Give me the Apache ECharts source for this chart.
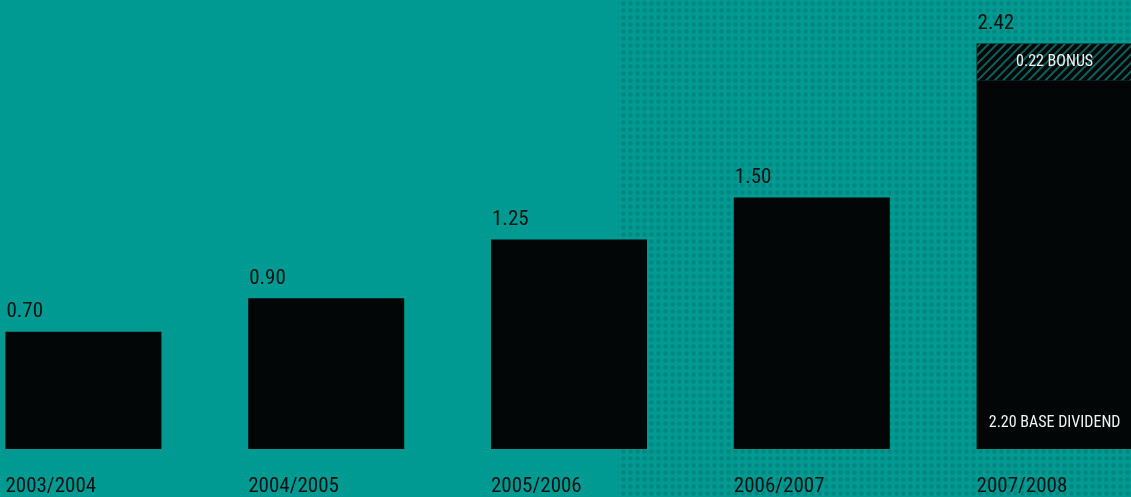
<!DOCTYPE html>
<html>
<head>
<meta charset="utf-8">
<script src="https://cdn.jsdelivr.net/npm/echarts@6/dist/echarts.min.js"></script>
<style>
html,body{margin:0;padding:0;background:#009a92;overflow:hidden;width:1131px;height:497px;}
#c{position:absolute;left:-38px;top:0;width:1214px;height:497px;}
</style>
</head>
<body>
<div id="c"></div>
<script>
const categories = ['2003/2004', '2004/2005', '2005/2006', '2006/2007', '2007/2008'];
const baseValues = [0.70, 0.90, 1.25, 1.50, 2.20];
const bonusValues = [0, 0, 0, 0, 0.22];
const bonusLabels = ['', '', '', '', '0.22 BONUS'];
const baseInnerLabels = ['', '', '', '', '2.20 BASE DIVIDEND'];
const totals = baseValues.map((v, i) => v + bonusValues[i]);
const yMax = 2.5;

const FONT = '"Roboto Condensed", "DejaVu Sans Condensed", sans-serif';
const DARK = '#081313';

// dot pattern for the right part of the background
const dot = document.createElement('canvas');
dot.width = 7; dot.height = 7;
const dctx = dot.getContext('2d');
dctx.fillStyle = 'rgba(0,70,66,0.22)';
dctx.beginPath(); dctx.arc(3.5, 3.5, 2.2, 0, Math.PI * 2); dctx.fill();

const chart = echarts.init(document.getElementById('c'));
chart.setOption({
  backgroundColor: '#009a92',
  animation: false,
  graphic: [{
    type: 'rect', z: -10, silent: true,
    shape: { x: 656, y: 0, width: 560, height: 497 },
    style: { fill: { image: dot, repeat: 'repeat' } }
  }],
  grid: { left: 0, right: 0, top: 30, bottom: 48, containLabel: false },
  xAxis: {
    type: 'category',
    data: categories,
    axisLine: { show: false },
    axisTick: { show: false },
    axisLabel: {
      interval: 0,
      margin: 27,
      align: 'center',
      width: 156,
      overflow: 'none',
      formatter: v => '{c|' + v + '}',
      rich: { c: { align: 'left', fontFamily: FONT, fontSize: 21, color: DARK } }
    }
  },
  yAxis: {
    type: 'value', min: 0, max: yMax, show: false,
    splitLine: { show: false }
  },
  series: [
    {
      name: 'base', type: 'bar', stack: 'd', barWidth: 156,
      data: baseValues,
      itemStyle: { color: '#020606' },
      label: {
        show: true, position: 'insideBottom', distance: 18,
        formatter: p => baseInnerLabels[p.dataIndex],
        fontFamily: FONT, fontSize: 16, color: '#f2f2f2'
      }
    },
    {
      name: 'bonus', type: 'bar', stack: 'd', barWidth: 156,
      data: bonusValues,
      itemStyle: {
        color: '#020606',
        decal: {
          symbol: 'rect', symbolSize: 1,
          dashArrayX: [1, 0], dashArrayY: [2, 4],
          rotation: -Math.PI / 4,
          color: '#0d5f5a'
        }
      },
      label: {
        show: true, position: 'inside',
        formatter: p => bonusLabels[p.dataIndex],
        fontFamily: FONT, fontSize: 16, color: '#f2f2f2'
      }
    },
    {
      name: 'total', type: 'bar', barWidth: 156, barGap: '-100%',
      data: totals, silent: true,
      itemStyle: { color: 'rgba(0,0,0,0)' },
      label: {
        show: true, position: [1, -30], align: 'left', verticalAlign: 'top',
        formatter: p => totals[p.dataIndex].toFixed(2),
        fontFamily: FONT, fontSize: 21, color: DARK
      }
    }
  ]
});
</script>
</body>
</html>
